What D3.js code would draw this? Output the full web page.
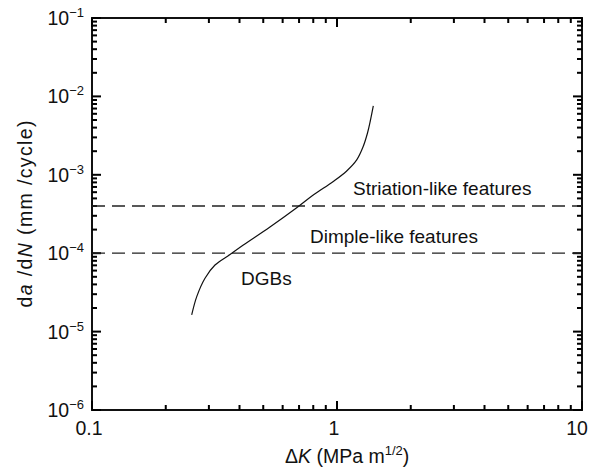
<!DOCTYPE html>
<html>
<head>
<meta charset="utf-8">
<script src="https://cdn.jsdelivr.net/npm/d3@7"></script>
<style>
  body { margin: 0; background: #fff; }
  text { font-family: "Liberation Sans", Arial, sans-serif; fill: #111; }
</style>
</head>
<body>
<div id="chart"></div>
<script>
// Crack growth curve
const deltaK = [0.2552, 0.2676, 0.2892, 0.3177, 0.3659, 0.4146, 0.5326, 0.6847, 0.800, 0.9658, 1.0954, 1.2035, 1.2767, 1.332, 1.370, 1.4067];
const dadN = [1.63e-5, 2.79e-5, 4.79e-5, 7.06e-5, 9.62e-5, 1.27e-4, 2.16e-4, 3.80e-4, 5.52e-4, 8.22e-4, 1.12e-3, 1.55e-3, 2.26e-3, 3.41e-3, 5.00e-3, 7.55e-3];

// Transition levels (dashed lines)
const boundaries = [4e-4, 1e-4];

// Region names
const regionLabels = ["Striation-like features", "Dimple-like features", "DGBs"];

// Tick labels
const xTicks = [0.1, 1, 10];
const xTickLabels = ["0.1", "1", "10"];
const yExponents = [-1, -2, -3, -4, -5, -6];

const width = 589;
const height = 474;
const margin = { top: 18, right: 7, bottom: 64, left: 92 };

const svg = d3.select("#chart")
    .append("svg")
    .attr("width", width)
    .attr("height", height);

const x = d3.scaleLog()
    .domain([0.1, 10])
    .range([margin.left, width - margin.right]);

const y = d3.scaleLog()
    .domain([1e-6, 1e-1])
    .range([height - margin.bottom, margin.top]);

const x0 = margin.left, x1 = width - margin.right;
const y0 = height - margin.bottom, y1 = margin.top;

// minor ticks: 2..9 of each decade
const minors = (lo, hi) => {
    const out = [];
    for (let e = lo; e < hi; e++) {
        for (let m = 2; m <= 9; m++) out.push(m * Math.pow(10, e));
    }
    return out;
};
const xMinor = minors(-1, 1);
const yMinor = minors(-6, -1);
const yMajor = yExponents.map(e => Math.pow(10, e));

// frame
svg.append("rect")
    .attr("x", x0)
    .attr("y", y1)
    .attr("width", x1 - x0)
    .attr("height", y0 - y1)
    .attr("fill", "none")
    .attr("stroke", "#111")
    .attr("stroke-width", 2);

// inward ticks on all four sides (rects, so they are sure to show)
const xTickData = xTicks.map(v => [v, 9]).concat(xMinor.map(v => [v, 5]));
const yTickData = yMajor.map(v => [v, 9]).concat(yMinor.map(v => [v, 5]));

const tickG = svg.append("g").attr("fill", "#000");
tickG.selectAll(".tb")
    .data(xTickData)
    .join("rect")
    .attr("x", d => x(d[0]) - 1)
    .attr("y", d => y0 - d[1])
    .attr("width", 2)
    .attr("height", d => d[1]);
tickG.selectAll(".tt")
    .data(xTickData)
    .join("rect")
    .attr("x", d => x(d[0]) - 1)
    .attr("y", y1)
    .attr("width", 2)
    .attr("height", d => d[1]);
tickG.selectAll(".tl")
    .data(yTickData)
    .join("rect")
    .attr("x", x0)
    .attr("y", d => y(d[0]) - 1)
    .attr("width", d => d[1])
    .attr("height", 2);
tickG.selectAll(".tr")
    .data(yTickData)
    .join("rect")
    .attr("x", d => x1 - d[1])
    .attr("y", d => y(d[0]) - 1)
    .attr("width", d => d[1])
    .attr("height", 2);

// x tick labels
svg.selectAll(".xlab")
    .data(xTicks)
    .enter()
    .append("text")
    .attr("x", d => Math.min(x(d) - 3, width - 12))
    .attr("y", y0 + 25)
    .attr("text-anchor", "middle")
    .attr("font-size", 19.5)
    .text((d, i) => xTickLabels[i]);

// y tick labels 10^n
const ylab = svg.selectAll(".ylab")
    .data(yExponents)
    .enter()
    .append("text")
    .attr("x", x0 - 8)
    .attr("y", d => y(Math.pow(10, d)) + 7)
    .attr("text-anchor", "end")
    .attr("font-size", 19.5);
ylab.append("tspan").text("10");
ylab.append("tspan")
    .attr("font-size", 13)
    .attr("dy", -8)
    .text(d => "\u2212" + Math.abs(d));

// dashed boundaries
svg.selectAll(".bound")
    .data(boundaries)
    .enter()
    .append("line")
    .attr("x1", x0)
    .attr("x2", x1)
    .attr("y1", d => y(d))
    .attr("y2", d => y(d))
    .attr("stroke", "#222")
    .attr("stroke-width", 1.3)
    .attr("stroke-dasharray", "13,7");

// curve
const line = d3.line()
    .x(d => x(d[0]))
    .y(d => y(d[1]))
    .curve(d3.curveCatmullRom.alpha(0.5));

svg.append("path")
    .datum(deltaK.map((k, i) => [k, dadN[i]]))
    .attr("d", line)
    .attr("fill", "none")
    .attr("stroke", "#111")
    .attr("stroke-width", 1.2);

// region annotations
const labelPos = [[1.162, 5.5e-4], [0.776, 1.35e-4], [0.406, 3.93e-5]];
svg.selectAll(".region")
    .data(regionLabels)
    .enter()
    .append("text")
    .attr("x", (d, i) => x(labelPos[i][0]))
    .attr("y", (d, i) => y(labelPos[i][1]))
    .attr("font-size", 19)
    .text(d => d);

// x axis title
const xt = svg.append("text")
    .attr("x", 285)
    .attr("y", 463)
    .attr("font-size", 19.5);
xt.append("tspan").text("\u0394");
xt.append("tspan").attr("font-style", "italic").text("K");
xt.append("tspan").text(" (MPa m");
xt.append("tspan").attr("font-size", 13).attr("dy", -8).text("1/2");
xt.append("tspan").attr("dy", 8).text(")");

// y axis title
const yt = svg.append("text")
    .attr("transform", `translate(32,${(y0 + y1) / 2}) rotate(-90)`)
    .attr("text-anchor", "middle")
    .attr("font-size", 19.5)
    .attr("textLength", 187)
    .attr("lengthAdjust", "spacing");
yt.append("tspan").text("d");
yt.append("tspan").attr("font-style", "italic").text("a");
yt.append("tspan").text(" /d");
yt.append("tspan").attr("font-style", "italic").text("N");
yt.append("tspan").text(" (mm /cycle)");
</script>
</body>
</html>
